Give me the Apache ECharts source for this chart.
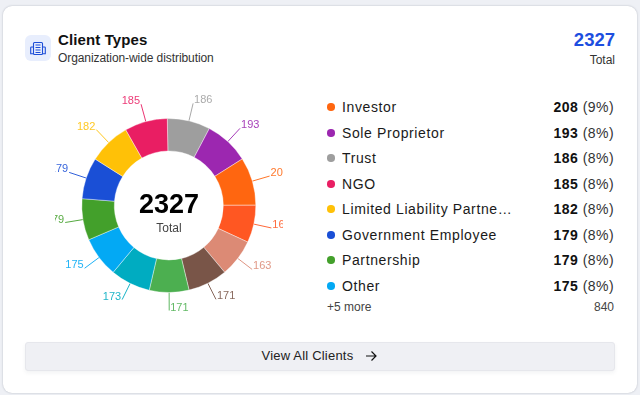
<!DOCTYPE html>
<html><head><meta charset="utf-8">
<script src="https://cdn.jsdelivr.net/npm/echarts@6/dist/echarts.min.js"></script>
<style>
html,body{margin:0;padding:0;width:640px;height:395px;overflow:hidden;background:#eef0f5;font-family:"Liberation Sans",Arial,sans-serif;color:#111}
.card{position:absolute;left:3px;top:6px;width:634px;height:387px;background:#fff;border-radius:9px;box-shadow:0 0 2px rgba(60,70,90,.35)}
.abs{position:absolute;white-space:nowrap}
#chart{position:absolute;left:55px;top:91px;width:228px;height:228px}
.row{position:absolute;left:327px;width:287px;height:20px;line-height:20px;font-size:14px}
.dot{position:absolute;left:0;top:6px;width:7.5px;height:7.5px;border-radius:50%}
.nm{position:absolute;left:15px;top:0;width:172px;overflow:hidden;text-overflow:ellipsis;white-space:nowrap;letter-spacing:.62px;color:#1a1a1a}
.vl{position:absolute;right:0;top:0;white-space:nowrap;letter-spacing:.45px;color:#333}
.vl b{color:#111}
.btn{position:absolute;left:25px;top:342px;width:588px;height:27px;background:#eff0f4;border:1px solid #e6e7ec;border-radius:3px;box-shadow:0 2px 4px rgba(40,50,70,.06)}
</style></head><body>
<div class="card"></div>
<div class="abs" style="left:25px;top:35px;width:26px;height:26px;background:#e8eefd;border-radius:6px">
<svg width="26" height="26" viewBox="0 0 26 26" fill="none" stroke="#1d4ed8" stroke-width="1.1"><rect x="8.5" y="7.5" width="9" height="12" rx="1"/><path d="M8 12H6.5a.8.8 0 0 0-.8.8v6h2.8M18 12h1.5a.8.8 0 0 1 .8.8v6h-2.8M10.5 10h5M10.5 12.5h5M10.5 15h5M10.5 17.5h5"/></svg></div>
<div class="abs" id="ttl" style="left:58px;top:31px;font-size:15px;font-weight:700;letter-spacing:.12px;line-height:18px"></div>
<div class="abs" id="sub" style="left:58px;top:51px;font-size:12px;line-height:14px;letter-spacing:-.08px;color:#333"></div>
<div class="abs" id="tot" style="right:25px;top:29px;font-size:18.5px;font-weight:700;line-height:22px;color:#1d4ee0"></div>
<div class="abs" id="totl" style="right:25px;top:53px;font-size:12px;line-height:14px;color:#333"></div>
<div id="chart"></div>
<div id="rows"></div>
<div class="abs" id="more" style="left:327px;top:300px;font-size:12px;line-height:14px;color:#444"></div>
<div class="abs" id="morev" style="right:26px;top:300px;font-size:12px;line-height:14px;color:#444"></div>
<div class="btn"></div>
<div class="abs" id="btnt" style="left:261.5px;top:348px;font-size:13px;line-height:16px;letter-spacing:.2px;color:#222"></div>
<svg class="abs" style="left:364px;top:349px" width="14" height="14" viewBox="0 0 14 14" fill="none" stroke="#111" stroke-width="1.2"><path d="M2 7h10M7.5 2.5 12 7l-4.5 4.5"/></svg>
<script>
const titleText = "Client Types";
const subtitleText = "Organization-wide distribution";
const totalValue = 2327;
const totalLabel = "Total";
const buttonText = "View All Clients";
const moreLabel = "+5 more";
const moreValue = 840;

// clockwise from 12 o'clock; the five unlisted slices have no legend name in the picture
const sliceNames = ["Trust","Sole Proprietor","Investor","More 1","More 2","More 3","More 4","More 5","Other","Government Employee","Partnership","Limited Liability Partnership","NGO"];
const sliceValues = [186,193,208,162,163,171,171,173,175,179,179,182,185];
const sliceColors = ["#9e9e9e","#9c27b0","#ff6610","#ff5722","#dc8a75","#795548","#4caf50","#00acc1","#03a9f4","#43a02b","#1a4fd6","#ffc107","#e91e63"];

const legendNames = ["Investor","Sole Proprietor","Trust","NGO","Limited Liability Partnership","Government Employee","Partnership","Other"];
const legendValues = [208,193,186,185,182,179,179,175];
const legendPercents = [9,8,8,8,8,8,8,8];
const legendColors = ["#ff6610","#9c27b0","#9e9e9e","#e91e63","#ffc107","#1a4fd6","#43a02b","#03a9f4"];
const legendTops = [97,123,148,174,199,225,250,276];

document.getElementById('ttl').textContent = titleText;
document.getElementById('sub').textContent = subtitleText;
document.getElementById('tot').textContent = totalValue;
document.getElementById('totl').textContent = totalLabel;
document.getElementById('more').textContent = moreLabel;
document.getElementById('morev').textContent = moreValue;
document.getElementById('btnt').textContent = buttonText;
document.getElementById('rows').innerHTML = legendNames.map((n,i)=>
 `<div class="row" style="top:${legendTops[i]}px"><span class="dot" style="background:${legendColors[i]}"></span><span class="nm">${n}</span><span class="vl"><b>${legendValues[i]}</b> (${legendPercents[i]}%)</span></div>`).join('');

const chart = echarts.init(document.getElementById('chart'), null, {renderer:'canvas'});
chart.setOption({
  animation:false,
  graphic:[
    {type:'text',left:'center',top:101,style:{text:String(totalValue),font:'bold 27px "Liberation Sans",Arial,sans-serif',fill:'#000'}},
    {type:'text',left:'center',top:132,style:{text:totalLabel,font:'12px "Liberation Sans",Arial,sans-serif',fill:'#444'}}
  ],
  series:[{
    type:'pie',
    center:[113.8,114.5],
    radius:[54.5,87],
    startAngle:91,
    clockwise:true,
    avoidLabelOverlap:false,
    itemStyle:{borderColor:'#fff',borderWidth:.4},
    label:{show:true,formatter:'{c}',fontSize:11,fontFamily:'"Liberation Sans",Arial,sans-serif',opacity:.88,distanceToLabelLine:1},
    labelLine:{show:true,length:18,length2:0,lineStyle:{width:1,opacity:.9}},
    labelLayout:{dy:-3},
    data:sliceValues.map((v,i)=>({name:sliceNames[i],value:v,itemStyle:{color:sliceColors[i]},label:{color:sliceColors[i]}}))
  }]
});
</script>
</body></html>
